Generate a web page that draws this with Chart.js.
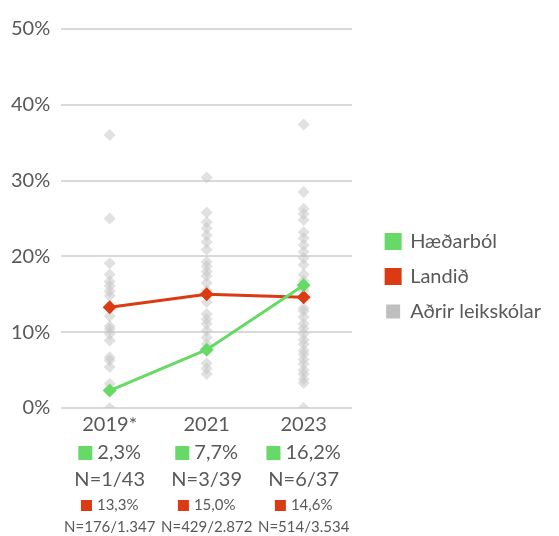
<!DOCTYPE html>
<html>
<head>
<meta charset="utf-8">
<script src="https://cdn.jsdelivr.net/npm/chart.js@4"></script>
<style>
  html, body { margin: 0; padding: 0; background: #fff; }
  #wrap { width: 559px; height: 536px; }
</style>
</head>
<body>
<div id="wrap"><canvas id="chart"></canvas></div>
<script>
// categories and series (percent)
const years = ['2019*', '2021', '2023'];
const haedarbol = [2.3, 7.7, 16.2];
const landid = [13.3, 15.0, 14.6];
const haedarbolLabels = ['2,3%', '7,7%', '16,2%'];
const haedarbolN = ['N=1/43', 'N=3/39', 'N=6/37'];
const landidLabels = ['13,3%', '15,0%', '14,6%'];
const landidN = ['N=176/1.347', 'N=429/2.872', 'N=514/3.534'];

// other preschools
const others2019 = [36, 25, 19.1, 17.6, 16.7, 16.1, 15.4, 14.8, 12.1, 10.8, 10.4, 9.8, 8.9, 6.7, 6.3, 5.4, 3.2, 0];
const others2021 = [30.4, 25.8, 24.5, 23.7, 22.8, 21.9, 20.9, 19.3, 18.7, 18.0, 17.4, 16.5, 15.5, 14.0, 12.4, 11.7, 11.1, 10.2, 9.3, 8.4, 5.9, 5.2, 4.5];
const others2023 = [37.4, 28.5, 26.3, 25.6, 24.8, 23.2, 22.4, 21.5, 20.6, 19.8, 18.9, 17.6, 16.8, 15.5, 13.2, 12.8, 12.0, 11.1, 10.5, 9.8, 9.0, 8.4, 7.6, 7.1, 6.4, 5.8, 5.0, 4.5, 3.8, 3.3, 0];

const GREEN = '#66d966';
const RED = '#dc3a12';
const GREY = '#bfbfbf';
const TEXT = '#595959';
const FONT = 'Lato, "Open Sans", sans-serif';

const othersPoints = [];
[others2019, others2021, others2023].forEach((arr, i) => {
    arr.forEach(v => othersPoints.push({ x: years[i], y: v }));
});

// per-year result rows under the x axis
const belowAxis = {
    id: 'belowAxis',
    afterDraw(chart) {
        const ctx = chart.ctx;
        const xs = chart.scales.x;
        ctx.save();
        ctx.textBaseline = 'middle';
        for (let i = 0; i < years.length; i++) {
            const cx = xs.getPixelForValue(i);

            // green row
            ctx.font = '20px ' + FONT;
            let w = ctx.measureText(haedarbolLabels[i]).width;
            let total = 14 + 5 + w;
            let left = cx - total / 2;
            ctx.fillStyle = GREEN;
            ctx.fillRect(left, 446, 14, 14);
            ctx.fillStyle = TEXT;
            ctx.textAlign = 'left';
            ctx.fillText(haedarbolLabels[i], left + 19, 453);
            ctx.textAlign = 'center';
            ctx.fillText(haedarbolN[i], cx, 480);

            // red row
            ctx.font = '15px ' + FONT;
            w = ctx.measureText(landidLabels[i]).width;
            total = 11 + 5 + w;
            left = cx - total / 2;
            ctx.fillStyle = RED;
            ctx.fillRect(left, 500, 11, 11);
            ctx.fillStyle = TEXT;
            ctx.textAlign = 'left';
            ctx.fillText(landidLabels[i], left + 16, 505);
            ctx.textAlign = 'center';
            ctx.fillText(landidN[i], cx, 527);
        }
        ctx.restore();
    }
};

const ctx = document.getElementById('chart').getContext('2d');
const chart = new Chart(ctx, {
    type: 'line',
    data: {
        labels: years,
        datasets: [
            {
                label: 'Hæðarból',
                data: haedarbol,
                borderColor: GREEN,
                backgroundColor: GREEN,
                borderWidth: 3,
                pointStyle: 'rectRot',
                pointRadius: 7,
                pointBackgroundColor: GREEN,
                pointBorderWidth: 0,
                order: 0
            },
            {
                label: 'Landið',
                data: landid,
                borderColor: RED,
                backgroundColor: RED,
                borderWidth: 3,
                pointStyle: 'rectRot',
                pointRadius: 7,
                pointBackgroundColor: RED,
                pointBorderWidth: 0,
                order: 0
            },
            {
                label: 'Aðrir leikskólar',
                data: othersPoints,
                showLine: false,
                borderColor: GREY,
                backgroundColor: GREY,
                borderWidth: 0,
                pointStyle: 'rectRot',
                pointRadius: 6,
                pointBackgroundColor: 'rgba(195, 195, 195, 0.5)',
                pointBorderWidth: 0,
                order: 1
            }
        ]
    },
    options: {
        responsive: true,
        maintainAspectRatio: false,
        animation: false,
        events: [],
        layout: { padding: { top: 17, right: 8 } },
        plugins: {
            tooltip: { enabled: false },
            legend: {
                position: 'right',
                maxWidth: 300,
                labels: {
                    boxWidth: 14,
                    boxHeight: 14,
                    padding: 15,
                    color: TEXT,
                    font: { family: FONT, size: 20 }
                }
            }
        },
        scales: {
            x: {
                offset: true,
                grid: { display: false, drawTicks: false },
                border: { display: false },
                ticks: { color: TEXT, font: { family: FONT, size: 20 }, padding: 5 },
                afterFit(scale) { scale.height = 128; }
            },
            // empty spacer above the plot (keeps the legend centred lower)
            topGap: {
                type: 'category',
                position: 'top',
                display: true,
                grid: { display: false },
                border: { display: false },
                ticks: { display: false },
                afterFit(scale) { scale.height = 12; }
            },
            y: {
                min: 0,
                max: 50,
                border: { display: false },
                grid: { color: '#d9d9d9', lineWidth: 2, drawTicks: false },
                ticks: {
                    stepSize: 10,
                    padding: 11,
                    color: TEXT,
                    font: { family: FONT, size: 20 },
                    callback: v => v + '%'
                }
            },
            // empty spacer between plot and legend
            gap: {
                position: 'right',
                display: true,
                grid: { display: false },
                border: { display: false },
                ticks: { display: false },
                afterFit(scale) { scale.width = 19; }
            }
        }
    },
    plugins: [belowAxis]
});
</script>
</body>
</html>
